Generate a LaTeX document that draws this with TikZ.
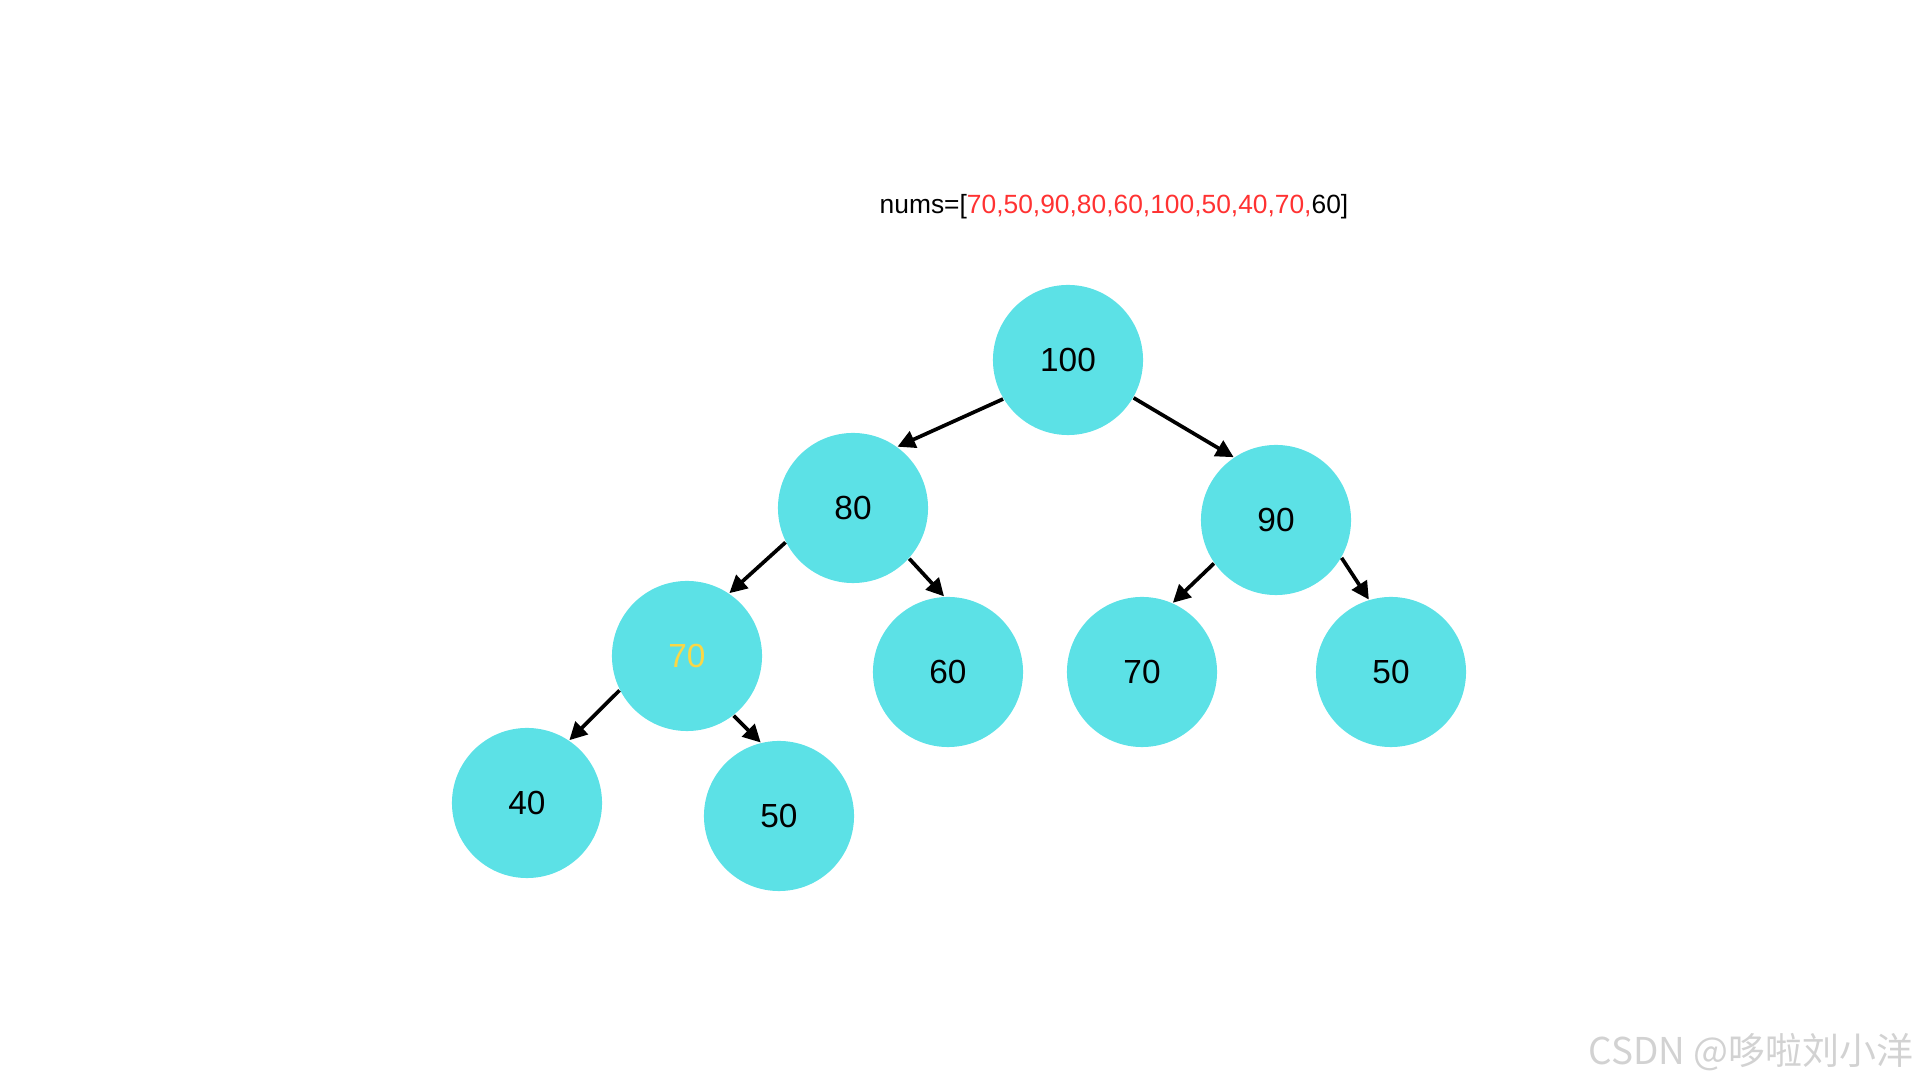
\documentclass[tikz,border=0pt]{standalone}
\usepackage{fontspec}
\setmainfont{Liberation Sans}
\newfontfamily\cjk{Noto Sans CJK SC}
\usepackage{xcolor}
\usepackage{tikz}
\usetikzlibrary{arrows.meta}
\definecolor{heapcyan}{RGB}{92, 225, 230}
\definecolor{numred}{RGB}{255, 50, 50}
\definecolor{markyellow}{RGB}{250, 215, 70}

\begin{document}
\begin{tikzpicture}[
    x=0.01cm, y=-0.01cm,
    heapnode/.style={circle, fill=heapcyan, draw=none, minimum size=1.5cm, inner sep=0pt, font=\fontsize{9.5pt}{11pt}\selectfont},
    edge/.style={line width=1.05pt, -{Triangle[length=5pt,width=5pt]}},
]
    \useasboundingbox (0,0) rectangle (1920,1080);

    % Array title
    \node[font=\fontsize{7.5pt}{9pt}\selectfont] (title) at (1114,207)
        {nums=[\textcolor{numred}{70,50,90,80,60,100,50,40,70,}60]};

    % Heap nodes
    \node[heapnode] (root) at (1068,360) {100};
    \node[heapnode] (l) at (853,508) {80};
    \node[heapnode] (r) at (1276,520) {90};
    \node[heapnode, text=markyellow] (ll) at (687,656) {70};
    \node[heapnode] (lr) at (948,672) {60};
    \node[heapnode] (rl) at (1142,672) {70};
    \node[heapnode] (rr) at (1391,672) {50};
    \node[heapnode] (lll) at (527,803) {40};
    \node[heapnode] (llr) at (779,816) {50};

    % Edges
    \draw[edge] (root.211) -- (l.54);
    \draw[edge] (root.-30) -- (r.124);
    \draw[edge] (l.207) -- (ll.56);
    \draw[edge] (l.-42) -- (lr.93);
    \draw[edge] (r.215) -- (rl.66);
    \draw[edge] (r.-30) -- (rr.107);
    \draw[edge] (ll.207) -- (lll.56);
    \draw[edge] (ll.-52) -- (llr.104);

    % Watermark
    \node[font=\cjk\fontsize{10.5pt}{12pt}\selectfont, text=gray!35, anchor=east, inner sep=0pt] (mark) at (1914,1052) {CSDN @哆啦刘小洋};
\end{tikzpicture}
\end{document}
